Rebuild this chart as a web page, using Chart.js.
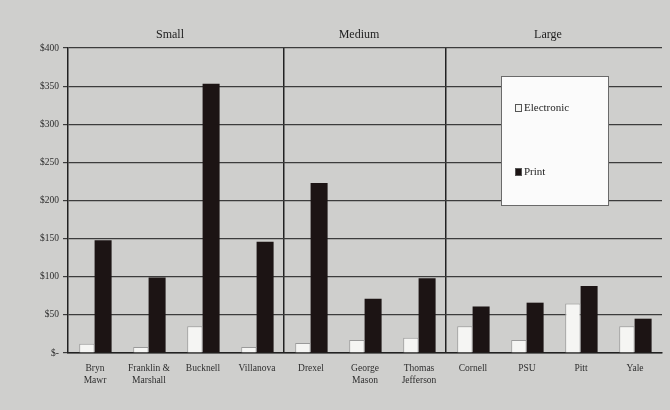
<!DOCTYPE html>
<html>
<head>
<meta charset="utf-8">
<script src="https://cdn.jsdelivr.net/npm/chart.js@4.4.1/dist/chart.umd.min.js"></script>
<style>
  html, body { margin: 0; padding: 0; background: #cfcfcd; }
  #wrap { width: 670px; height: 410px; }
</style>
</head>
<body>
<div id="wrap"><canvas id="chart" width="670" height="410"></canvas></div>
<script>
// Libraries grouped by size, cost per student
var libraries = [
    ['Bryn', 'Mawr'], ['Franklin &', 'Marshall'], 'Bucknell', 'Villanova',
    'Drexel', ['George', 'Mason'], ['Thomas', 'Jefferson'],
    'Cornell', 'PSU', 'Pitt', 'Yale'
];
var groupNames = ['Small', 'Medium', 'Large'];
var groupSizes = [4, 3, 4];

var electronic = [12, 8, 35, 8, 13, 17, 20, 35, 17, 65, 35];
var print = [148, 99, 353, 146, 223, 71, 98, 61, 66, 88, 45];

var yTicks = [0, 50, 100, 150, 200, 250, 300, 350, 400];

var serif = '"Liberation Serif", "DejaVu Serif", serif';

// Index of the first category in each group (plus the end)
var groupStarts = [0];
groupSizes.forEach(function(n, i) { groupStarts.push(groupStarts[i] + n); });

var pageBackground = {
    id: 'pageBackground',
    beforeDraw: function(chart) {
        var ctx = chart.ctx;
        ctx.save();
        ctx.fillStyle = '#cfcfcd';
        ctx.fillRect(0, 0, chart.width, chart.height);
        ctx.restore();
    }
};

// Group headers above the plot and the legend box inside it
var groupHeaders = {
    id: 'groupHeaders',
    afterDraw: function(chart) {
        var ctx = chart.ctx;
        var x = chart.scales.x;
        var area = chart.chartArea;
        var half = (x.getPixelForValue(1) - x.getPixelForValue(0)) / 2;

        ctx.save();
        ctx.fillStyle = '#1e1e1e';
        ctx.font = '12px ' + serif;
        ctx.textAlign = 'center';
        ctx.textBaseline = 'middle';
        groupNames.forEach(function(name, i) {
            var left = x.getPixelForValue(groupStarts[i]) - half;
            var right = x.getPixelForValue(groupStarts[i + 1] - 1) + half;
            ctx.fillText(name, (left + right) / 2 - 6, area.top - 13);
        });

        // legend
        var bx = 501, by = 76, bw = 107, bh = 129;
        ctx.fillStyle = '#fbfbfb';
        ctx.fillRect(bx, by, bw, bh);
        ctx.strokeStyle = '#6a6a6a';
        ctx.lineWidth = 1;
        ctx.strokeRect(bx + 0.5, by + 0.5, bw, bh);

        ctx.textAlign = 'left';
        ctx.font = '11px ' + serif;
        chart.data.datasets.forEach(function(ds, i) {
            var ly = by + 32 + i * 64;
            ctx.fillStyle = ds.backgroundColor;
            ctx.fillRect(bx + 14, ly - 4, 7, 8);
            ctx.strokeStyle = '#555';
            ctx.strokeRect(bx + 14.5, ly - 3.5, 6, 7);
            ctx.fillStyle = '#1e1e1e';
            ctx.fillText(ds.label, bx + 23, ly);
        });
        ctx.restore();
    }
};

new Chart(document.getElementById('chart'), {
    type: 'bar',
    data: {
        labels: libraries,
        datasets: [
            {
                label: 'Electronic',
                data: electronic,
                backgroundColor: '#f5f5f3',
                borderColor: '#9a9a9a',
                borderWidth: 1,
                barPercentage: 0.95,
                categoryPercentage: 0.6
            },
            {
                label: 'Print',
                data: print,
                backgroundColor: '#1c1414',
                borderColor: '#1c1414',
                borderWidth: 0,
                barPercentage: 1.05,
                categoryPercentage: 0.6
            }
        ]
    },
    plugins: [pageBackground, groupHeaders],
    options: {
        responsive: false,
        animation: false,
        layout: { padding: { top: 48, right: 8, bottom: 6, left: 0 } },
        plugins: {
            legend: { display: false },
            tooltip: { enabled: false }
        },
        scales: {
            x: {
                grid: {
                    offset: true,
                    drawTicks: false,
                    lineWidth: 1.5,
                    color: function(c) {
                        return (c.index === groupStarts[1] || c.index === groupStarts[2]) ? '#222' : 'rgba(0,0,0,0)';
                    }
                },
                border: { display: true, color: '#222', width: 1.5 },
                ticks: {
                    color: '#2e2e2e',
                    font: { family: serif, size: 9.5 },
                    maxRotation: 0,
                    autoSkip: false,
                    padding: 10
                },
                afterFit: function(scale) { scale.height = 51; }
            },
            y: {
                min: 0,
                max: 400,
                afterBuildTicks: function(scale) {
                    scale.ticks = yTicks.map(function(v) { return { value: v }; });
                },
                grid: {
                    color: '#3c3c3c',
                    lineWidth: 1.2,
                    tickLength: 5
                },
                border: { display: true, color: '#222', width: 1.5 },
                ticks: {
                    color: '#2e2e2e',
                    font: { family: serif, size: 9.5 },
                    padding: 4,
                    callback: function(v) { return v === 0 ? '$-' : '$' + v; }
                },
                afterFit: function(scale) { scale.width = 68; }
            }
        }
    }
});
</script>
</body>
</html>
